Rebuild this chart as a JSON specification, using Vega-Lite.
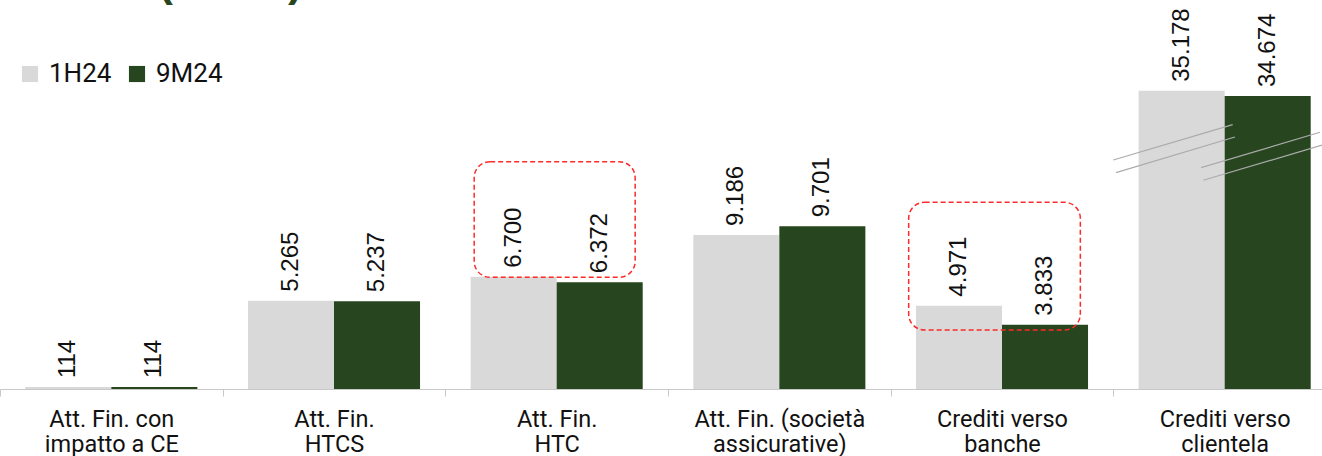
{
  "$schema": "https://vega.github.io/schema/vega-lite/v6.json",
  "width": 1336,
  "height": 389,
  "autosize": {"type": "none"},
  "padding": {"left": 0, "top": 0, "right": 0, "bottom": 67},
  "background": "white",
  "title": {
    "text": "Attività (€ mln)",
    "anchor": "start",
    "frame": "group",
    "font": "Liberation Sans",
    "fontSize": 44,
    "fontWeight": "bold",
    "color": "#27461f",
    "baseline": "alphabetic",
    "offset": 0,
    "dx": -3,
    "dy": 40
  },
  "config": {
    "view": {"stroke": null},
    "locale": {
      "number": {"decimal": ",", "thousands": ".", "grouping": [3], "currency": ["€", ""]}
    }
  },
  "datasets": {
    "saldi": [
      {"cat": "Att. Fin. con\nimpatto a CE", "series": "1H24", "value": 114},
      {"cat": "Att. Fin. con\nimpatto a CE", "series": "9M24", "value": 114},
      {"cat": "Att. Fin.\nHTCS", "series": "1H24", "value": 5265},
      {"cat": "Att. Fin.\nHTCS", "series": "9M24", "value": 5237},
      {"cat": "Att. Fin.\nHTC", "series": "1H24", "value": 6700},
      {"cat": "Att. Fin.\nHTC", "series": "9M24", "value": 6372},
      {"cat": "Att. Fin. (società\nassicurative)", "series": "1H24", "value": 9186},
      {"cat": "Att. Fin. (società\nassicurative)", "series": "9M24", "value": 9701},
      {"cat": "Crediti verso\nbanche", "series": "1H24", "value": 4971},
      {"cat": "Crediti verso\nbanche", "series": "9M24", "value": 3833},
      {"cat": "Crediti verso\nclientela", "series": "1H24", "value": 35178},
      {"cat": "Crediti verso\nclientela", "series": "9M24", "value": 34674}
    ],
    "box_htc": [{"cat": "Att. Fin.\nHTC", "lo": 6661, "hi": 13554}],
    "box_banche": [{"cat": "Crediti verso\nbanche", "lo": 3518, "hi": 11133}],
    "interruzioni": [
      {"a": 5.0, "b": 5.536, "lo": 13655, "hi": 31644},
      {"a": 5.012, "b": 5.546, "lo": 12898, "hi": 24287},
      {"a": 5.394, "b": 5.928, "lo": 13196, "hi": 27098},
      {"a": 5.404, "b": 5.937, "lo": 12445, "hi": 19383}
    ]
  },
  "layer": [
    {
      "data": {"name": "saldi"},
      "mark": {"type": "bar"},
      "encoding": {
        "x": {
          "field": "cat",
          "type": "nominal",
          "scale": {
            "domain": ["Att. Fin. con\nimpatto a CE", "Att. Fin.\nHTCS", "Att. Fin.\nHTC", "Att. Fin. (società\nassicurative)", "Crediti verso\nbanche", "Crediti verso\nclientela"],
            "paddingInner": 0,
            "paddingOuter": 0
          },
          "axis": {
            "title": null,
            "labelAngle": 0,
            "labelExpr": "split(datum.label, '\\n')",
            "labelFont": "Roboto",
            "labelFontSize": 23.5,
            "labelLineHeight": 25.5,
            "labelColor": "#111111",
            "labelPadding": 11,
            "domainColor": "#c8c8c8",
            "tickColor": "#c8c8c8",
            "tickSize": 7,
            "tickBand": "extent"
          }
        },
        "xOffset": {
          "field": "series",
          "scale": {"domain": ["1H24", "9M24"], "paddingInner": 0, "paddingOuter": 0.294}
        },
        "y": {
          "field": "value",
          "type": "quantitative",
          "scale": {
            "domain": [0, 14000, 32000, 43819],
            "range": [389, 154.2, 124.1, 0],
            "nice": false,
            "zero": false
          },
          "axis": null
        },
        "color": {
          "field": "series",
          "type": "nominal",
          "scale": {"domain": ["1H24", "9M24"], "range": ["#d9d9d9", "#27461f"]},
          "legend": {
            "orient": "none",
            "legendX": 17,
            "legendY": 61,
            "padding": 0,
            "direction": "horizontal",
            "title": null,
            "symbolType": "square",
            "symbolSize": 260,
            "symbolStrokeWidth": 0,
            "symbolOpacity": 1,
            "labelFont": "Roboto",
            "labelFontSize": 26,
            "labelColor": "#111111",
            "labelOffset": 6,
            "columnPadding": 12
          }
        }
      }
    },
    {
      "data": {"name": "box_htc"},
      "mark": {"type": "bar", "width": {"band": 0.723}, "xOffset": -2, "fill": "transparent", "stroke": "#ff2a2a", "strokeWidth": 1.5, "strokeDash": [5, 3], "cornerRadius": 16},
      "encoding": {
        "x": {
          "field": "cat",
          "type": "nominal",
          "scale": {
            "domain": ["Att. Fin. con\nimpatto a CE", "Att. Fin.\nHTCS", "Att. Fin.\nHTC", "Att. Fin. (società\nassicurative)", "Crediti verso\nbanche", "Crediti verso\nclientela"],
            "paddingInner": 0,
            "paddingOuter": 0
          },
          "axis": null
        },
        "y": {"field": "lo", "type": "quantitative"},
        "y2": {"field": "hi"}
      }
    },
    {
      "data": {"name": "box_banche"},
      "mark": {"type": "bar", "width": {"band": 0.771}, "xOffset": -7.5, "fill": "transparent", "stroke": "#ff2a2a", "strokeWidth": 1.5, "strokeDash": [5, 3], "cornerRadius": 16},
      "encoding": {
        "x": {
          "field": "cat",
          "type": "nominal",
          "scale": {
            "domain": ["Att. Fin. con\nimpatto a CE", "Att. Fin.\nHTCS", "Att. Fin.\nHTC", "Att. Fin. (società\nassicurative)", "Crediti verso\nbanche", "Crediti verso\nclientela"],
            "paddingInner": 0,
            "paddingOuter": 0
          },
          "axis": null
        },
        "y": {"field": "lo", "type": "quantitative"},
        "y2": {"field": "hi"}
      }
    },
    {
      "data": {"name": "interruzioni"},
      "mark": {"type": "rule", "color": "#ababab", "strokeWidth": 1.2},
      "encoding": {
        "x": {"field": "a", "type": "quantitative", "scale": {"domain": [0, 6], "nice": false, "zero": false}, "axis": null},
        "x2": {"field": "b"},
        "y": {"field": "lo", "type": "quantitative"},
        "y2": {"field": "hi"}
      }
    },
    {
      "data": {"name": "saldi"},
      "mark": {"type": "text", "angle": 270, "align": "left", "baseline": "middle", "dx": 9, "font": "Liberation Sans", "fontSize": 24, "color": "#111111"},
      "encoding": {
        "x": {
          "field": "cat",
          "type": "nominal",
          "scale": {
            "domain": ["Att. Fin. con\nimpatto a CE", "Att. Fin.\nHTCS", "Att. Fin.\nHTC", "Att. Fin. (società\nassicurative)", "Crediti verso\nbanche", "Crediti verso\nclientela"],
            "paddingInner": 0,
            "paddingOuter": 0
          },
          "axis": null
        },
        "xOffset": {
          "field": "series",
          "scale": {"domain": ["1H24", "9M24"], "paddingInner": 0, "paddingOuter": 0.294}
        },
        "y": {"field": "value", "type": "quantitative"},
        "text": {"field": "value", "type": "quantitative", "format": ",.0f"}
      }
    }
  ],
  "resolve": {"scale": {"x": "independent"}}
}
